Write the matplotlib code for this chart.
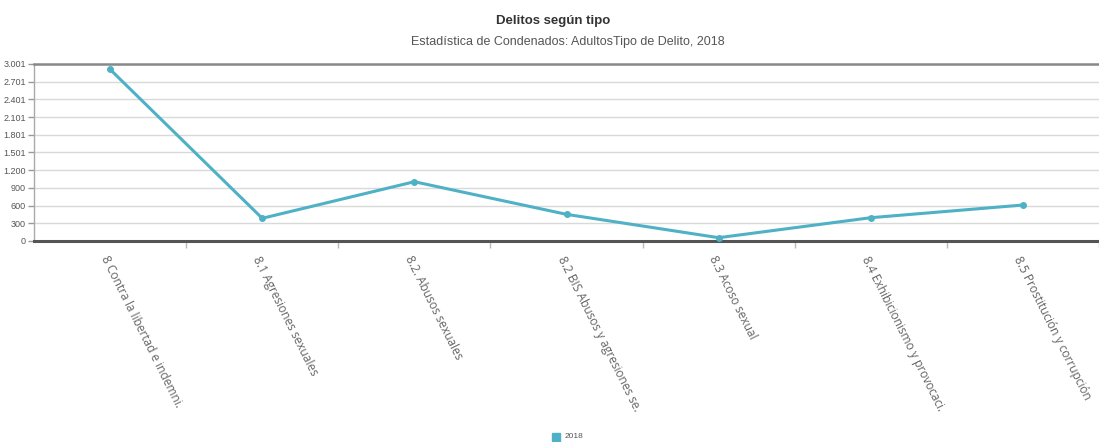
import matplotlib
matplotlib.use('Agg')
import matplotlib.pyplot as plt
from matplotlib.patches import Rectangle

categorias = ['8 Contra la libertad e indemni.', '8.1 Agresiones sexuales',
              '8.2. Abusos sexuales', '8.2 BIS Abusos y agresiones se.',
              '8.3 Acoso sexual', '8.4 Exhibicionismo y provocaci.',
              '8.5 Prostitución y corrupción']
valores_2018 = [2910, 385, 1005, 452, 56, 395, 610]
yticks = [0, 300, 600, 900, 1200, 1501, 1801, 2101, 2401, 2701, 3001]
ytick_labels = ['0', '300', '600', '900', '1.200', '1.501', '1.801', '2.101',
                '2.401', '2.701', '3.001']

color = '#4fb1c5'
sans = ['Liberation Sans', 'DejaVu Sans']

fig = plt.figure(figsize=(10.99, 4.42), dpi=100)
ax = fig.add_axes([34/1099, 201/442, 1 - 34/1099, 177/442])

x = list(range(len(categorias)))
ax.plot(x, valores_2018, color=color, lw=2.2, marker='o', ms=4, zorder=3)

ax.set_xlim(-0.5, -0.5 + (1099 - 34) / 152.5)
ax.set_ylim(0, 3001)
ax.set_yticks(yticks)
ax.set_yticklabels(ytick_labels, family=sans, fontsize=6.5, color='#555555')
ax.yaxis.grid(True, color='#d9d9d9', lw=1)
ax.set_axisbelow(True)

ax.set_xticks([i + 0.5 for i in range(len(categorias))])
ax.set_xticklabels([])
ax.tick_params(axis='x', length=5, color='#bbbbbb', width=1)
ax.tick_params(axis='y', length=4, color='#999999', width=1, pad=2)

for i, cat in enumerate(categorias):
    ax.text(i - 0.04, -0.09, cat, transform=ax.get_xaxis_transform(),
            rotation=-63.5, rotation_mode='anchor', ha='left', va='center',
            fontsize=8.6, family=['Open Sans', 'DejaVu Sans'], color='#666666')

ax.spines['right'].set_visible(False)
ax.spines['top'].set_color('#888888')
ax.spines['top'].set_linewidth(1.8)
ax.spines['bottom'].set_color('#555555')
ax.spines['bottom'].set_linewidth(2.2)
ax.spines['left'].set_color('#aaaaaa')
ax.spines['left'].set_linewidth(1)

fig.text(553/1099, 1 - 21/442, 'Delitos según tipo', ha='center', va='center',
         fontsize=9.5, fontweight='bold', family=sans, color='#333333')
fig.text(568/1099, 1 - 42/442, 'Estadística de Condenados: AdultosTipo de Delito, 2018',
         ha='center', va='center', fontsize=9, family=sans, color='#555555')

fig.patches.append(Rectangle((552/1099, 1 - 441/442), 8/1099, 8/442,
                             transform=fig.transFigure, color=color))
fig.text(565/1099, 1 - 437/442, '2018', ha='left', va='center',
         fontsize=6, family=sans, color='#555555')

fig.savefig('out.png', dpi=100)
